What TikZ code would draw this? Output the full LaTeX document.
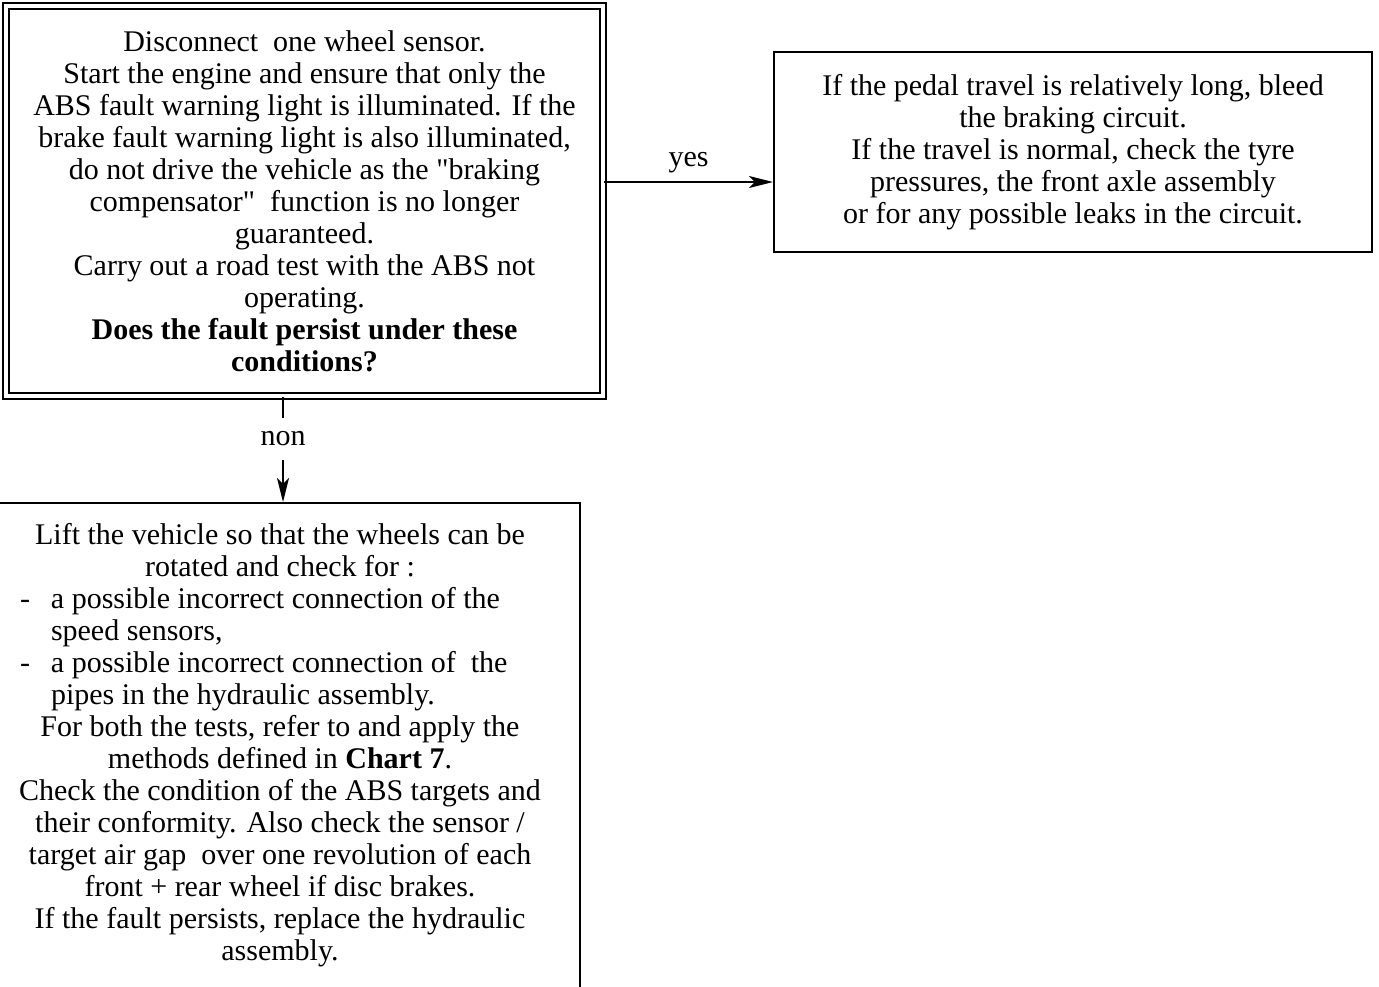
\documentclass[tikz,border=0pt]{standalone}
\usepackage{fontspec}
\setmainfont{Liberation Serif}
\usepackage{tikz}
\usetikzlibrary{arrows.meta, positioning, calc}
\newcommand{\itemline}[2]{\makebox[260pt][l]{\makebox[15.5pt][l]{#1}#2}}

\begin{document}
\begin{tikzpicture}[x=0.5pt, y=-0.5pt,
    txt/.style={align=center, font=\fontsize{15}{16}\selectfont, inner sep=0pt},
    box/.style={draw, line width=1pt, txt},
    dbox/.style={draw, double, line width=1.1pt, double distance=1.6pt, txt},
    arr/.style={-{Stealth[length=12pt, width=6pt, inset=3pt]}, line width=1pt}]
  \useasboundingbox (0,0) rectangle (1379,986);
  % Test box with the double frame
  \node[dbox, minimum width=298.5pt, minimum height=195pt] (decide) at (304.5,201) {Disconnect\ \ one wheel sensor.\\
    Start the engine and ensure that only the\\
    ABS fault warning light is illuminated. If the\\
    brake fault warning light is also illuminated,\\
    do not drive the vehicle as the \textquotedbl braking\\
    compensator\textquotedbl\ \ function is no longer\\
    guaranteed.\\
    Carry out a road test with the ABS not\\
    operating.\\
    \textbf{Does the fault persist under these}\\
    \textbf{conditions?}};
  % Answer boxes
  \node[box, minimum width=299pt, minimum height=100pt] (fix) at (1073,152) {If the pedal travel is relatively long, bleed\\
    the braking circuit.\\
    If the travel is normal, check the tyre\\
    pressures, the front axle assembly\\
    or for any possible leaks in the circuit.};
  \node[box, minimum width=300pt, minimum height=258.5pt] (check) at (280,761.5) {};
  \node[txt] (checktext) at (280,745) {Lift the vehicle so that the wheels can be\\
    rotated and check for :\\
    \itemline{-}{a possible incorrect connection of the}\\
    \itemline{}{speed sensors,}\\
    \itemline{-}{a possible incorrect connection of\ \ the}\\
    \itemline{}{pipes in the hydraulic assembly.}\\
    For both the tests, refer to and apply the\\
    methods defined in \textbf{Chart 7}.\\
    Check the condition of the ABS targets and\\
    their conformity. Also check the sensor /\\
    target air gap\ \ over one revolution of each\\
    front + rear wheel if disc brakes.\\
    If the fault persists, replace the hydraulic\\
    assembly.};
  % Connectors
  \coordinate (yesrow) at (0,182);
  \coordinate (noncol) at (283,0);
  \draw[arr] (decide.east |- yesrow) -- node[txt, above=4pt] {yes} (fix.west |- yesrow);
  \draw[arr] (decide.south -| noncol) -- node[pos=0.4, txt, fill=white, inner ysep=7pt] {non} (check.north -| noncol);
\end{tikzpicture}
\end{document}
